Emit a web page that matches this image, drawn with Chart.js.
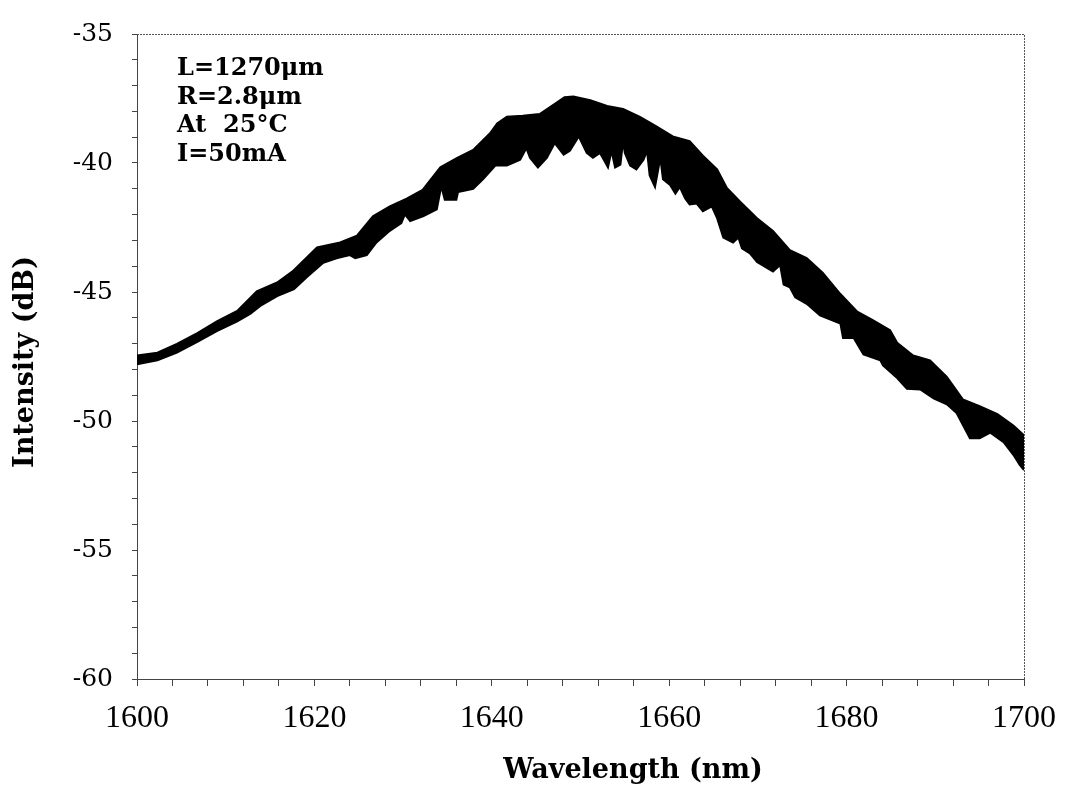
<!DOCTYPE html>
<html>
<head>
<meta charset="utf-8">
<title>Intensity spectrum</title>
<script src="https://cdn.jsdelivr.net/npm/chart.js@4.4.1/dist/chart.umd.min.js"></script>
<style>
    body { margin: 0; background: #fff; }
    #wrap { width: 1090px; height: 787px; position: relative; }
</style>
</head>
<body>
<div id="wrap"><canvas id="spectrumChart"></canvas></div>
<script>
// Upper edge of the measured spectrum (nm, dB)
const upperNm = [1600, 1602.3, 1604.5, 1606.8, 1609, 1611.3, 1613.5, 1615.8, 1617.5, 1620.3,
    1622.9, 1624.8, 1626.6, 1628.5, 1630.4, 1632.2, 1634.2, 1636.1, 1637.9, 1639.8,
    1640.6, 1641.7, 1643.5, 1645.4, 1647.4, 1648.2, 1649.2, 1651.1, 1653, 1654.8,
    1656.7, 1658.6, 1660.4, 1662.3, 1663.8, 1665.4, 1666.5, 1668, 1669.9, 1671.7,
    1673.6, 1675.5, 1677.3, 1679.3, 1681.2, 1683, 1684.9, 1685.7, 1687.5, 1689.4,
    1691.3, 1693.1, 1695, 1697, 1698.8, 1700];
const upperDb = [-47.46, -47.35, -47.01, -46.59, -46.14, -45.73, -44.97, -44.63, -44.21, -43.27,
    -43.08, -42.82, -42.06, -41.68, -41.38, -41.04, -40.17, -39.80, -39.49, -38.85,
    -38.47, -38.21, -38.17, -38.10, -37.64, -37.45, -37.42, -37.57, -37.79, -37.91,
    -38.21, -38.59, -38.97, -39.15, -39.72, -40.25, -40.97, -41.50, -42.14, -42.63,
    -43.38, -43.69, -44.25, -45.08, -45.76, -46.10, -46.48, -46.97, -47.46, -47.65,
    -48.29, -49.16, -49.43, -49.73, -50.18, -50.56];

// Lower edge of the measured spectrum (nm, dB), including the mode dips
const lowerNm = [1600, 1602.3, 1604.5, 1606.8, 1609, 1611.3, 1612.8, 1613.9, 1615.8, 1617.7,
    1619.1, 1621, 1622.5, 1624, 1624.6, 1625.9, 1627, 1628.5, 1629.8, 1630.2,
    1630.8, 1632.3, 1633.8, 1634.3, 1634.7, 1636, 1636.2, 1637.9, 1639, 1640.4,
    1641.7, 1643.2, 1643.9, 1644.3, 1645.2, 1646.2, 1647.1, 1648.1, 1648.8, 1649.8,
    1650.7, 1651.4, 1652.2, 1652.8, 1653.1, 1653.5, 1653.9, 1654.5, 1654.8, 1655,
    1655.6, 1656.3, 1657.1, 1657.5, 1657.8, 1658.4, 1659, 1659.3, 1660.1, 1660.7,
    1661.2, 1661.8, 1662.3, 1663.1, 1663.8, 1664.8, 1665.4, 1666.1, 1667.2, 1667.8,
    1668.2, 1669.1, 1669.9, 1671.7, 1672.5, 1672.9, 1673.6, 1674.2, 1675.5, 1677,
    1679.3, 1679.6, 1680.8, 1681.9, 1683.8, 1684.1, 1685.6, 1686.8, 1688.3, 1689.8,
    1691.3, 1692.4, 1693.9, 1695, 1696.2, 1697.7, 1698.8, 1699.5, 1700];
const lowerDb = [-47.80, -47.65, -47.35, -46.93, -46.52, -46.14, -45.84, -45.54, -45.16, -44.89,
    -44.44, -43.87, -43.69, -43.57, -43.69, -43.57, -43.08, -42.63, -42.33, -41.99,
    -42.25, -42.06, -41.80, -40.90, -41.42, -41.42, -41.12, -41.00, -40.63, -40.10,
    -40.10, -39.87, -39.42, -39.80, -40.17, -39.80, -39.23, -39.68, -39.53, -38.97,
    -39.61, -39.80, -39.61, -39.98, -40.17, -39.53, -40.17, -40.06, -39.15, -39.61,
    -40.10, -40.25, -39.87, -39.53, -40.48, -40.93, -39.80, -40.63, -40.85, -41.19,
    -40.93, -41.38, -41.61, -41.57, -41.87, -41.68, -42.14, -42.89, -43.08, -42.89,
    -43.31, -43.50, -43.84, -44.21, -43.95, -44.71, -44.82, -45.20, -45.46, -45.91,
    -46.22, -46.78, -46.78, -47.42, -47.65, -47.84, -48.30, -48.75, -48.78, -49.12,
    -49.35, -49.69, -50.67, -50.67, -50.45, -50.82, -51.31, -51.69, -51.90];

// Axis tick labels
const xMajorTicks = [1600, 1620, 1640, 1660, 1680, 1700];
const yMajorTicks = [-60, -55, -50, -45, -40, -35];

// Axis titles and the measurement conditions shown in the upper left corner
const xTitle = 'Wavelength (nm)';
const yTitle = 'Intensity (dB)';
const noteLines = ['L=1270\u03bcm', 'R=2.8\u03bcm', 'At  25\u00b0C', 'I=50mA'];

function toPoints(xs, ys) {
    return xs.map((x, i) => ({ x: x, y: ys[i] }));
}

// Draws the top/right frame, the axis titles and the note text
const framePlugin = {
    id: 'frame',
    afterDraw(chart) {
        const { ctx, chartArea } = chart;
        ctx.save();
        ctx.strokeStyle = '#555';
        ctx.lineWidth = 1;
        ctx.setLineDash([2, 1]);
        ctx.beginPath();
        ctx.moveTo(chartArea.left, chartArea.top + 0.5);
        ctx.lineTo(chartArea.right + 0.5, chartArea.top + 0.5);
        ctx.lineTo(chartArea.right + 0.5, chartArea.bottom);
        ctx.stroke();
        ctx.setLineDash([]);

        ctx.fillStyle = '#000';

        // axis titles (placed off-centre like the original figure)
        ctx.font = 'bold 27px "DejaVu Serif"';
        ctx.textAlign = 'center';
        ctx.textBaseline = 'middle';
        ctx.fillText(xTitle, 633, 771);
        ctx.save();
        ctx.translate(26, 362);
        ctx.rotate(-Math.PI / 2);
        ctx.fillText(yTitle, 0, 0);
        ctx.restore();

        // notes
        ctx.font = 'bold 24px "DejaVu Serif"';
        ctx.textAlign = 'left';
        ctx.textBaseline = 'alphabetic';
        noteLines.forEach((line, i) => {
            ctx.fillText(line, 177, 75 + i * 28.5);
        });
        ctx.restore();
    }
};

function createSpectrumChart() {
    const ctx = document.getElementById('spectrumChart').getContext('2d');

    window.spectrumChart = new Chart(ctx, {
        type: 'line',
        data: {
            datasets: [
                {
                    label: 'upper',
                    data: toPoints(upperNm, upperDb),
                    borderColor: '#000',
                    borderWidth: 2,
                    pointRadius: 0,
                    tension: 0,
                    fill: false
                },
                {
                    label: 'lower',
                    data: toPoints(lowerNm, lowerDb),
                    borderColor: '#000',
                    backgroundColor: '#000',
                    borderWidth: 2,
                    pointRadius: 0,
                    tension: 0,
                    fill: '-1'
                }
            ]
        },
        options: {
            responsive: true,
            maintainAspectRatio: false,
            animation: false,
            layout: { padding: { left: 0, right: 66, top: 18, bottom: 0 } },
            plugins: {
                legend: { display: false },
                tooltip: { enabled: false }
            },
            scales: {
                x: {
                    type: 'linear',
                    min: 1600,
                    max: 1700,
                    afterFit: scale => { scale.height = 108; },
                    border: { color: '#444', width: 1 },
                    grid: { drawOnChartArea: false, color: '#444', tickLength: 7 },
                    ticks: {
                        stepSize: 4,
                        autoSkip: false,
                        maxRotation: 0,
                        padding: 13,
                        color: '#000',
                        font: { family: '"Liberation Serif"', size: 32 },
                        callback: value => xMajorTicks.includes(Math.round(value)) ? String(Math.round(value)) : ''
                    }
                },
                y: {
                    min: -60,
                    max: -35,
                    afterFit: scale => { scale.width = 137; },
                    border: { color: '#444', width: 1 },
                    grid: { drawOnChartArea: false, color: '#444', tickLength: 5 },
                    ticks: {
                        stepSize: 1,
                        autoSkip: false,
                        padding: 19,
                        color: '#000',
                        font: { family: '"DejaVu Serif"', size: 25 },
                        callback: value => yMajorTicks.includes(Math.round(value)) ? String(Math.round(value)) : ''
                    }
                }
            }
        },
        plugins: [framePlugin]
    });
}

document.addEventListener('DOMContentLoaded', createSpectrumChart);
</script>
</body>
</html>
